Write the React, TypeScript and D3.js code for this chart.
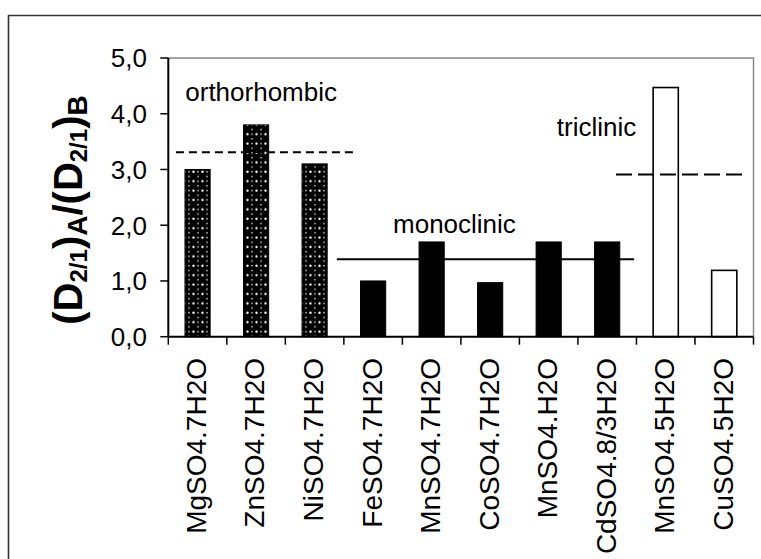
import React from "react";
import * as d3 from "d3";

const categories = [
  "MgSO4.7H2O",
  "ZnSO4.7H2O",
  "NiSO4.7H2O",
  "FeSO4.7H2O",
  "MnSO4.7H2O",
  "CoSO4.7H2O",
  "MnSO4.H2O",
  "CdSO4.8/3H2O",
  "MnSO4.5H2O",
  "CuSO4.5H2O",
];
const values = [3.0, 3.8, 3.1, 1.0, 1.7, 0.97, 1.7, 1.7, 4.47, 1.19];
const groups = ["ortho", "ortho", "ortho", "mono", "mono", "mono", "mono", "mono", "tri", "tri"];
const yTicks = [0, 1, 2, 3, 4, 5];
const groupLabels = ["orthorhombic", "monoclinic", "triclinic"];
const groupMeans = [3.31, 1.39, 2.91];
// extent of reference lines, in category units
const groupLineStart = [0.13, 2.88, 7.65];
const groupLineEnd = [3.17, 7.96, 9.87];
const groupLabelPos = [
  [0.29, 4.23],
  [3.84, 1.86],
  [6.64, 3.6],
];

const W = 761;
const H = 559;
const left = 168.3;
const right = 753.5;
const top = 58;
const bottom = 336.7;
const FONT = "Arial, 'Liberation Sans', Helvetica, sans-serif";

export default function App() {
  const y = d3.scaleLinear().domain([0, 5]).range([bottom, top]);
  const xb = d3
    .scaleBand<string>()
    .domain(categories)
    .range([left, right])
    .paddingInner(0.57)
    .paddingOuter(0.285);
  const xl = d3.scaleLinear().domain([0, categories.length]).range([left, right]);
  const fmt = (v: number) => d3.format(".1f")(v).replace(".", ",");
  const dashes = ["8,5", null, "16,6"];

  return (
    <svg
      width={W}
      height={H}
      style={{ position: "absolute", left: 0, top: 0, background: "#fff" }}
      fontFamily={FONT}
    >
      <defs>
        <pattern id="dots" width="9" height="9.4" patternUnits="userSpaceOnUse" x="2">
          <rect width="9" height="9.4" fill="#000" />
          <circle cx="2.5" cy="2.5" r="1.2" fill="#fff" />
          <circle cx="7" cy="2.5" r="0.8" fill="#ccc" />
          <circle cx="7" cy="7.2" r="0.8" fill="#ccc" />
        </pattern>
      </defs>
      <rect width={W} height={H} fill="#fff" />
      {/* outer frame */}
      <path d={`M8.5,${H}V15.5H${W}`} fill="none" stroke="#333" strokeWidth={1.6} />
      {/* plot area border (top/right) */}
      <path d={`M${left},${top}H${right}V${bottom}`} fill="none" stroke="#888" strokeWidth={1.5} />

      {/* bars */}
      {categories.map((c, i) => {
        const g = groups[i];
        const fill = g === "ortho" ? "url(#dots)" : g === "mono" ? "#000" : "#fff";
        return (
          <rect
            key={c}
            x={xb(c)}
            y={y(values[i])}
            width={xb.bandwidth()}
            height={y(0) - y(values[i])}
            fill={fill}
            stroke="#000"
            strokeWidth={g === "tri" ? 1.6 : 1}
          />
        );
      })}

      {/* group reference lines */}
      {groupMeans.map((m, i) => (
        <line
          key={"l" + i}
          x1={xl(groupLineStart[i])}
          x2={xl(groupLineEnd[i])}
          y1={y(m)}
          y2={y(m)}
          stroke="#000"
          strokeWidth={2}
          strokeDasharray={dashes[i] || undefined}
        />
      ))}

      {/* group labels */}
      {groupLabels.map((t, i) => (
        <text key={t} x={xl(groupLabelPos[i][0])} y={y(groupLabelPos[i][1])} fontSize={26} fill="#000">
          {t}
        </text>
      ))}

      {/* y axis */}
      <line x1={left} x2={left} y1={top} y2={bottom} stroke="#000" strokeWidth={2} />
      {yTicks.map((t) => (
        <g key={"y" + t}>
          <line x1={left - 8} x2={left} y1={y(t)} y2={y(t)} stroke="#000" strokeWidth={1.5} />
          <text x={147} y={y(t)} dy="0.36em" textAnchor="end" fontSize={26} fill="#000">
            {fmt(t)}
          </text>
        </g>
      ))}

      {/* x axis */}
      <line x1={left} x2={right} y1={bottom} y2={bottom} stroke="#000" strokeWidth={2} />
      {d3.range(categories.length + 1).map((i) => (
        <line key={"xt" + i} x1={xl(i)} x2={xl(i)} y1={bottom} y2={bottom + 8} stroke="#000" strokeWidth={1.5} />
      ))}
      {categories.map((c) => (
        <text
          key={"xl" + c}
          transform={`translate(${(xb(c) as number) + xb.bandwidth() / 2},358) rotate(-90)`}
          textAnchor="end"
          dy="0.3em"
          fontSize={28}
          fill="#000"
        >
          {c}
        </text>
      ))}

      {/* y axis title */}
      <text
        transform={`translate(82,210) rotate(-90)`}
        textAnchor="middle"
        fontWeight="bold"
        fontSize={40}
        fill="#000"
      >
        (D
        <tspan fontSize={24} dy={5}>2/1</tspan>
        <tspan dy={-5}>)</tspan>
        <tspan fontSize={28} dy={5}>A</tspan>
        <tspan dy={-5}>/(D</tspan>
        <tspan fontSize={24} dy={5}>2/1</tspan>
        <tspan dy={-5}>)</tspan>
        <tspan fontSize={28} dy={5}>B</tspan>
      </text>
    </svg>
  );
}
